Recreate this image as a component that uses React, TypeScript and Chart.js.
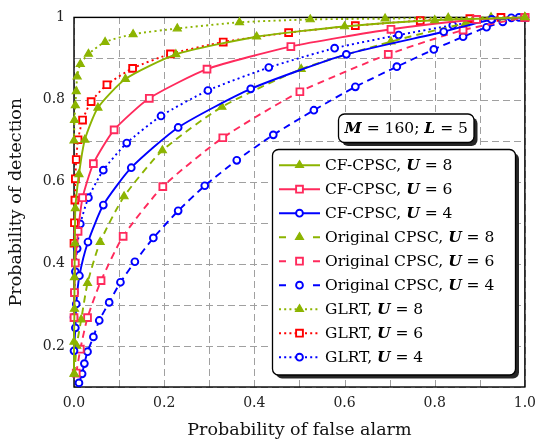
import React, { useEffect, useRef } from 'react';
import { Chart, registerables } from 'chart.js';

Chart.register(...registerables);

const GREEN = '#8cb400';
const PINK = '#ff2a5c';
const RED = '#ff0000';
const BLUE = '#0000ff';
const FONT = '"DejaVu Serif", serif';

// CF-CPSC
const cfU8X = [0, 0, 0.001, 0.001, 0.002, 0.003, 0.011, 0.024, 0.053, 0.114, 0.226, 0.405, 0.6, 0.8, 1];
const cfU8Y = [0.132, 0.21, 0.29, 0.367, 0.45, 0.535, 0.618, 0.702, 0.78, 0.85, 0.91, 0.953, 0.978, 0.993, 1];
const cfU6X = [0, 0.001, 0.003, 0.009, 0.019, 0.043, 0.089, 0.167, 0.295, 0.481, 0.703, 0.893, 1];
const cfU6Y = [0.269, 0.33, 0.402, 0.479, 0.561, 0.644, 0.726, 0.803, 0.874, 0.929, 0.971, 0.995, 1];
const cfU4X = [0, 0.003, 0.005, 0.012, 0.031, 0.065, 0.127, 0.231, 0.392, 0.604, 0.82, 0.926, 1];
const cfU4Y = [0.188, 0.244, 0.302, 0.371, 0.453, 0.543, 0.634, 0.732, 0.826, 0.91, 0.965, 0.995, 1];

// Original CPSC
const orU8X = [0.001, 0.006, 0.016, 0.03, 0.058, 0.111, 0.196, 0.328, 0.504, 0.703, 0.868, 1];
const orU8Y = [0.132, 0.2, 0.264, 0.353, 0.453, 0.564, 0.676, 0.782, 0.874, 0.941, 0.985, 1];
const orU6X = [0.005, 0.014, 0.03, 0.06, 0.109, 0.197, 0.33, 0.501, 0.697, 0.863, 1];
const orU6Y = [0.134, 0.192, 0.269, 0.359, 0.467, 0.588, 0.707, 0.819, 0.91, 0.969, 1];
const orU4X = [0.011, 0.018, 0.023, 0.03, 0.043, 0.056, 0.078, 0.103, 0.135, 0.176, 0.231, 0.29, 0.361, 0.442, 0.532, 0.624, 0.716, 0.798, 0.863, 0.915, 0.951, 0.987];
const orU4Y = [0.11, 0.132, 0.157, 0.186, 0.222, 0.262, 0.306, 0.355, 0.405, 0.463, 0.529, 0.59, 0.652, 0.714, 0.774, 0.831, 0.88, 0.922, 0.953, 0.976, 0.989, 1];

// GLRT
const glU8X = [0, 0.001, 0.003, 0.005, 0.007, 0.014, 0.032, 0.069, 0.131, 0.229, 0.367, 0.524, 0.69, 0.83, 0.925, 1];
const glU8Y = [0.7, 0.75, 0.786, 0.82, 0.856, 0.886, 0.911, 0.94, 0.959, 0.973, 0.988, 0.995, 0.997, 0.999, 1, 1];
const glU6X = [0, 0.001, 0.002, 0.003, 0.005, 0.009, 0.019, 0.038, 0.073, 0.13, 0.214, 0.331, 0.476, 0.624, 0.768, 0.878, 0.947, 1];
const glU6Y = [0.45, 0.5, 0.555, 0.607, 0.654, 0.702, 0.75, 0.795, 0.836, 0.876, 0.911, 0.94, 0.963, 0.98, 0.992, 0.997, 1, 1];
const glU4X = [0, 0.001, 0.003, 0.007, 0.014, 0.032, 0.065, 0.117, 0.193, 0.297, 0.432, 0.578, 0.72, 0.84, 0.927, 0.97, 1];
const glU4Y = [0.27, 0.33, 0.381, 0.437, 0.497, 0.561, 0.628, 0.694, 0.76, 0.822, 0.878, 0.925, 0.957, 0.981, 0.995, 0.999, 1];

const methodNames = ['CF-CPSC', 'CF-CPSC', 'CF-CPSC', 'Original CPSC', 'Original CPSC', 'Original CPSC', 'GLRT', 'GLRT', 'GLRT'];
const uValues = [8, 6, 4, 8, 6, 4, 8, 6, 4];
const seriesX = [cfU8X, cfU6X, cfU4X, orU8X, orU6X, orU4X, glU8X, glU6X, glU4X];
const seriesY = [cfU8Y, cfU6Y, cfU4Y, orU8Y, orU6Y, orU4Y, glU8Y, glU6Y, glU4Y];
const seriesColor = [GREEN, PINK, BLUE, GREEN, PINK, BLUE, GREEN, RED, BLUE];
const seriesMarker = ['triangle', 'rect', 'circle', 'triangle', 'rect', 'circle', 'triangle', 'rect', 'circle'];
const seriesDash = ['solid', 'solid', 'solid', 'dashed', 'dashed', 'dashed', 'dotted', 'dotted', 'dotted'];

const xTickValues = [0, 0.2, 0.4, 0.6, 0.8, 1.0];
const yTickValues = [0.2, 0.4, 0.6, 0.8, 1.0];

const annotationParts: [string, boolean][] = [['M', true], [' = 160; ', false], ['L', true], [' = 5', false]];

const dashFor = (s: string) => (s === 'dashed' ? [7, 5] : s === 'dotted' ? [2, 3.2] : []);
const radiusFor = (m: string) => (m === 'rect' ? 4.8 : m === 'circle' ? 3.4 : 4.6);

function drawMarker(ctx: CanvasRenderingContext2D, m: string, x: number, y: number, color: string) {
  ctx.save();
  ctx.setLineDash([]);
  ctx.lineWidth = m === 'triangle' ? 1.2 : 1.9;
  ctx.strokeStyle = color;
  ctx.beginPath();
  if (m === 'triangle') {
    const r = 4.6;
    ctx.moveTo(x, y - r);
    ctx.lineTo(x + r * Math.sin(Math.PI * 2 / 3), y + r / 2);
    ctx.lineTo(x - r * Math.sin(Math.PI * 2 / 3), y + r / 2);
    ctx.closePath();
    ctx.fillStyle = color;
  } else if (m === 'rect') {
    const s = 4.8 * Math.SQRT1_2;
    ctx.rect(x - s, y - s, 2 * s, 2 * s);
    ctx.fillStyle = '#ffffff';
  } else {
    ctx.arc(x, y, 3.4, 0, Math.PI * 2);
    ctx.fillStyle = '#ffffff';
  }
  ctx.fill();
  ctx.stroke();
  ctx.restore();
}

function drawRich(ctx: CanvasRenderingContext2D, parts: [string, boolean][], x: number, y: number, size: number) {
  let cx = x;
  for (const [t, bi] of parts) {
    ctx.font = `${bi ? 'italic bold ' : ''}${size}px ${FONT}`;
    ctx.fillText(t, cx, y);
    cx += ctx.measureText(t).width;
  }
  return cx - x;
}

function measureRich(ctx: CanvasRenderingContext2D, parts: [string, boolean][], size: number) {
  let w = 0;
  for (const [t, bi] of parts) {
    ctx.font = `${bi ? 'italic bold ' : ''}${size}px ${FONT}`;
    w += ctx.measureText(t).width;
  }
  return w;
}

function shadowBox(ctx: CanvasRenderingContext2D, l: number, t: number, r: number, b: number, rad: number) {
  ctx.save();
  ctx.setLineDash([]);
  ctx.fillStyle = '#262626';
  ctx.beginPath();
  ctx.roundRect(l + 3.5, t + 3.5, r - l, b - t, rad);
  ctx.fill();
  ctx.fillStyle = '#ffffff';
  ctx.strokeStyle = '#000000';
  ctx.lineWidth = 1.3;
  ctx.beginPath();
  ctx.roundRect(l, t, r - l, b - t, rad);
  ctx.fill();
  ctx.stroke();
  ctx.restore();
}

const decorPlugin = {
  id: 'decor',
  beforeDatasetsDraw(chart: any) {
    const { ctx, chartArea: a, scales } = chart;
    ctx.save();
    // dashed grid
    ctx.strokeStyle = '#a0a0a0';
    ctx.lineWidth = 1;
    ctx.setLineDash([7, 4]);
    for (const t of scales.x.ticks) {
      const px = Math.round(scales.x.getPixelForValue(t.value)) + 0.5;
      ctx.beginPath();
      ctx.moveTo(px, a.bottom);
      ctx.lineTo(px, a.top);
      ctx.stroke();
    }
    for (const t of scales.y.ticks) {
      const py = Math.round(scales.y.getPixelForValue(t.value)) + 0.5;
      ctx.beginPath();
      ctx.moveTo(a.left, py);
      ctx.lineTo(a.right, py);
      ctx.stroke();
    }
    // frame
    ctx.strokeStyle = '#000';
    ctx.lineWidth = 1.4;
    ctx.setLineDash([]);
    ctx.strokeRect(a.left, a.top, a.right - a.left, a.bottom - a.top);
    ctx.restore();
  },
  afterDraw(chart: any) {
    const ctx: CanvasRenderingContext2D = chart.ctx;
    // annotation box
    shadowBox(ctx, 338.5, 114, 474, 142.5, 6);
    ctx.save();
    ctx.fillStyle = '#000';
    ctx.textBaseline = 'middle';
    const aw = measureRich(ctx, annotationParts, 15.5);
    drawRich(ctx, annotationParts, 406.25 - aw / 2, 128.8, 15.5);
    ctx.restore();

    // legend
    shadowBox(ctx, 272.5, 149.5, 515.5, 375, 6);
    const x1 = 279, x2 = 320, xm = 299.5;
    for (let i = 0; i < methodNames.length; i++) {
      const y = 165.2 + i * 24.0;
      const color = seriesColor[i];
      ctx.save();
      ctx.strokeStyle = color;
      ctx.lineWidth = 1.9;
      ctx.beginPath();
      if (seriesDash[i] === 'dashed') {
        ctx.moveTo(x1, y); ctx.lineTo(x1 + 7, y);
        ctx.moveTo(x2 - 7, y); ctx.lineTo(x2, y);
      } else {
        ctx.setLineDash(dashFor(seriesDash[i]));
        ctx.moveTo(x1, y); ctx.lineTo(x2, y);
      }
      ctx.stroke();
      ctx.restore();
      drawMarker(ctx, seriesMarker[i], xm, y, color);
      ctx.save();
      ctx.fillStyle = '#000';
      ctx.textBaseline = 'middle';
      drawRich(ctx, [[methodNames[i] + ', ', false], ['U', true], [' = ' + uValues[i], false]], 325, y + 0.5, 15.5);
      ctx.restore();
    }
  },
};

export default function App() {
  const ref = useRef<HTMLCanvasElement | null>(null);
  useEffect(() => {
    document.body.style.margin = '0';
    const canvas = ref.current!;
    const datasets = seriesX.map((xs, i) => ({
      label: `${methodNames[i]}, U = ${uValues[i]}`,
      data: xs.map((x, j) => ({ x, y: seriesY[i][j] })),
      showLine: true,
      borderColor: seriesColor[i],
      borderWidth: 1.9,
      borderDash: dashFor(seriesDash[i]),
      tension: 0.2,
      pointStyle: seriesMarker[i] as any,
      pointRadius: radiusFor(seriesMarker[i]),
      pointBorderWidth: seriesMarker[i] === 'triangle' ? 1.2 : 1.9,
      pointBorderColor: seriesColor[i],
      pointBackgroundColor: seriesMarker[i] === 'triangle' ? seriesColor[i] : '#ffffff',
      clip: false as any,
    }));
    const chart = new Chart(canvas, {
      type: 'scatter',
      data: { datasets },
      plugins: [decorPlugin],
      options: {
        responsive: false,
        animation: false,
        layout: { padding: { left: 0, right: 15, top: 10, bottom: 0 } },
        plugins: { legend: { display: false }, tooltip: { enabled: false } },
        scales: {
          x: {
            type: 'linear',
            min: 0,
            max: 1,
            afterFit: (s: any) => { s.height = 56; },
            ticks: {
              stepSize: 0.1,
              autoSkip: false,
              maxRotation: 0,
              padding: 8,
              color: '#222',
              font: { family: FONT, size: 14 },
              callback: (v: any) => {
                const n = Math.round(Number(v) * 10) / 10;
                return xTickValues.some((t) => Math.abs(t - n) < 1e-6) ? n.toFixed(1) : '';
              },
            },
            grid: { display: false, drawTicks: false },
            border: { display: false },
            title: {
              display: true,
              text: 'Probability of false alarm',
              color: '#111',
              font: { family: FONT, size: 17.5 },
              padding: { top: 0, bottom: 2.5 },
            },
          },
          y: {
            type: 'linear',
            min: 0.1,
            max: 1,
            afterFit: (s: any) => { s.width = 74; },
            ticks: {
              stepSize: 0.1,
              autoSkip: false,
              padding: 9,
              color: '#222',
              font: { family: FONT, size: 14 },
              callback: (v: any) => {
                const n = Math.round(Number(v) * 10) / 10;
                if (!yTickValues.some((t) => Math.abs(t - n) < 1e-6)) return '';
                return n === 1 ? '1' : n.toFixed(1);
              },
            },
            grid: { display: false, drawTicks: false },
            border: { display: false },
            title: {
              display: true,
              text: 'Probability of detection',
              color: '#111',
              font: { family: FONT, size: 17.5 },
              padding: { top: 6, bottom: 0 },
            },
          },
        },
      },
    });
    return () => chart.destroy();
  }, []);
  return (
    <div style={{ width: 544, height: 443 }}>
      <canvas ref={ref} width={544} height={443} style={{ display: 'block' }} />
    </div>
  );
}
